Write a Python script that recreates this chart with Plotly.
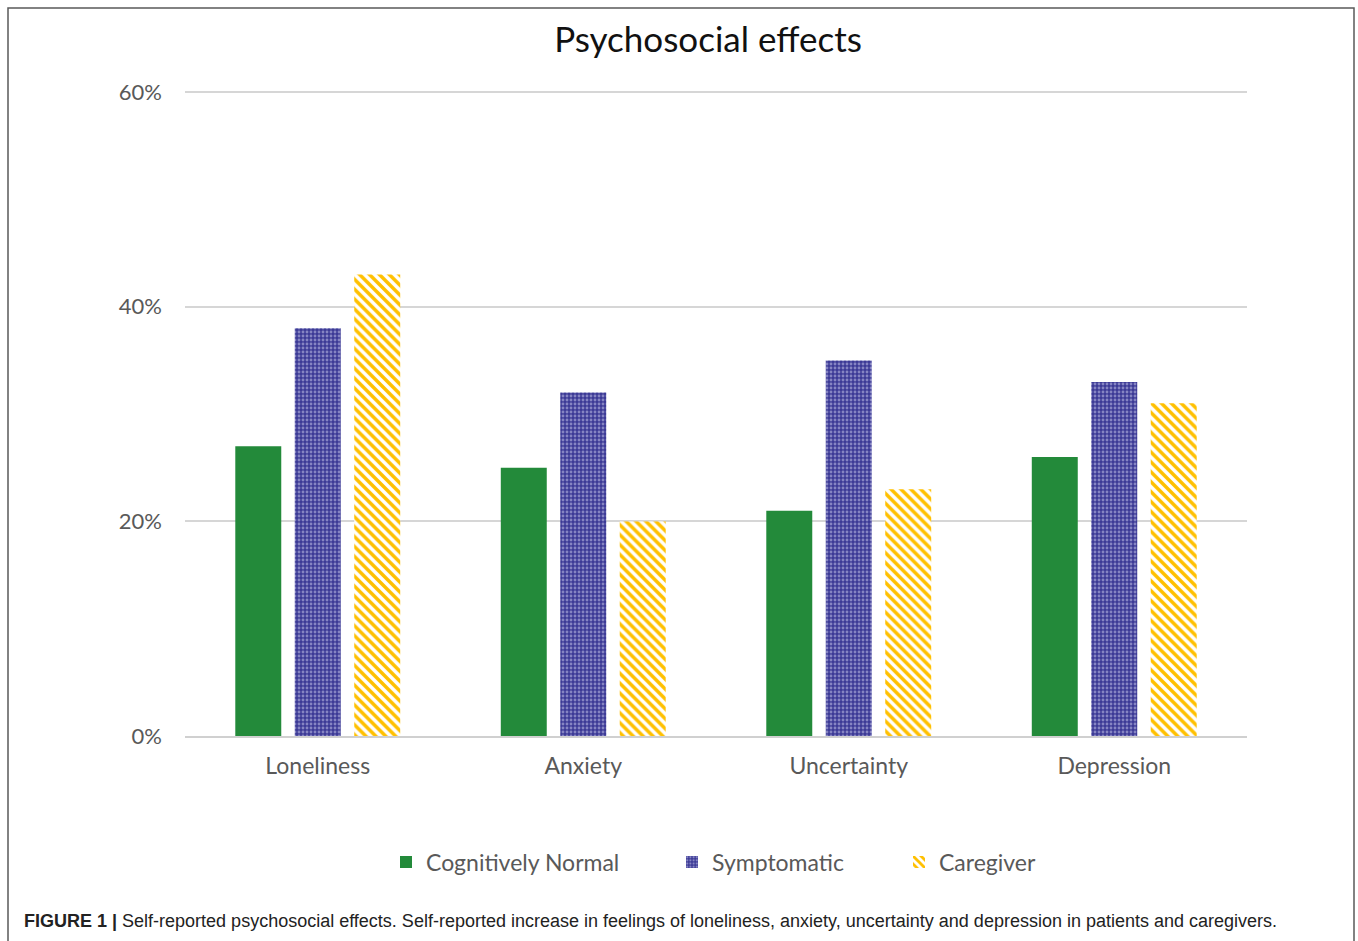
import plotly.graph_objects as go

# Survey results: share of respondents reporting an increase in each feeling
categories = ["Loneliness", "Anxiety", "Uncertainty", "Depression"]
cognitively_normal = [0.27, 0.25, 0.21, 0.26]
symptomatic = [0.38, 0.32, 0.35, 0.33]
caregiver = [0.43, 0.20, 0.23, 0.31]
y_ticks = [0, 0.2, 0.4, 0.6]
y_top = 0.602  # a little headroom so the 60% gridline is drawn

W, H = 1358, 941
L, R, T, B = 185, 1247, 90, 736  # plot area in pixels


def px_x(p):
    return (p - L) / (R - L)


def px_y(p):
    return (B - p) / (B - T)


TEXT_FONT = "Lato"
GREY = "#595959"

fig = go.Figure()
fig.add_trace(go.Bar(
    x=categories, y=cognitively_normal, name="Cognitively Normal",
    marker=dict(color="#238a3a", line=dict(width=0)),
    legend="legend",
))
fig.add_trace(go.Bar(
    x=categories, y=symptomatic, name="Symptomatic",
    marker=dict(
        color="#3c3a96", line=dict(width=0),
        pattern=dict(shape=".", fillmode="overlay", bgcolor="#3c3a96",
                     fgcolor="#cfcff0", size=4, solidity=0.4),
    ),
    legend="legend2",
))
fig.add_trace(go.Bar(
    x=categories, y=caregiver, name="Caregiver",
    marker=dict(
        color="#ffc000", line=dict(width=0),
        pattern=dict(shape="\\", fillmode="replace", fgcolor="#ffc000",
                     bgcolor="white", size=7, solidity=0.5),
    ),
    legend="legend3",
))

legend_common = dict(orientation="h", yanchor="middle", xanchor="left",
                     font=dict(family=TEXT_FONT, size=23, color=GREY),
                     bgcolor="rgba(0,0,0,0)", itemwidth=30)

fig.update_layout(
    width=W, height=H,
    margin=dict(l=L, r=W - R, t=T, b=H - B),
    paper_bgcolor="white", plot_bgcolor="white",
    barmode="group", bargap=0.328, bargroupgap=0.227,
    title=dict(text="Psychosocial effects", x=708 / W, y=1 - 40 / H,
               xref="container", yref="container",
               xanchor="center", yanchor="middle",
               font=dict(family=TEXT_FONT, size=35, color="#111111")),
    xaxis=dict(showgrid=False, showline=True, linecolor="#d0d0d0", linewidth=1.5,
               ticks="", ticklabelstandoff=9,
               tickfont=dict(family=TEXT_FONT, size=23, color=GREY)),
    yaxis=dict(range=[0, y_top], tickvals=y_ticks, tickformat=".0%",
               showgrid=True, gridcolor="#d6d6d6", gridwidth=1.5,
               zeroline=False, showline=False, ticks="",
               ticklabelstandoff=22,
               tickfont=dict(family=TEXT_FONT, size=22, color=GREY)),
    legend=dict(x=px_x(386), y=px_y(862), **legend_common),
    legend2=dict(x=px_x(672), y=px_y(862), **legend_common),
    legend3=dict(x=px_x(899), y=px_y(862), **legend_common),
    showlegend=True,
)

# Figure frame
fig.add_shape(type="rect", xref="paper", yref="paper",
              x0=px_x(8), x1=px_x(1354), y0=px_y(990), y1=px_y(8),
              line=dict(color="#5a5a5a", width=1.5), fillcolor="rgba(0,0,0,0)",
              layer="below")

# Caption
fig.add_annotation(
    xref="paper", yref="paper", x=px_x(22), y=px_y(921),
    xanchor="left", yanchor="middle", showarrow=False,
    text="<b>FIGURE 1 |</b> Self-reported psychosocial effects. Self-reported increase in "
         "feelings of loneliness, anxiety, uncertainty and depression in patients and caregivers.",
    font=dict(family="Liberation Sans", size=18, color="#222222"),
)

fig.write_html("out.html")
